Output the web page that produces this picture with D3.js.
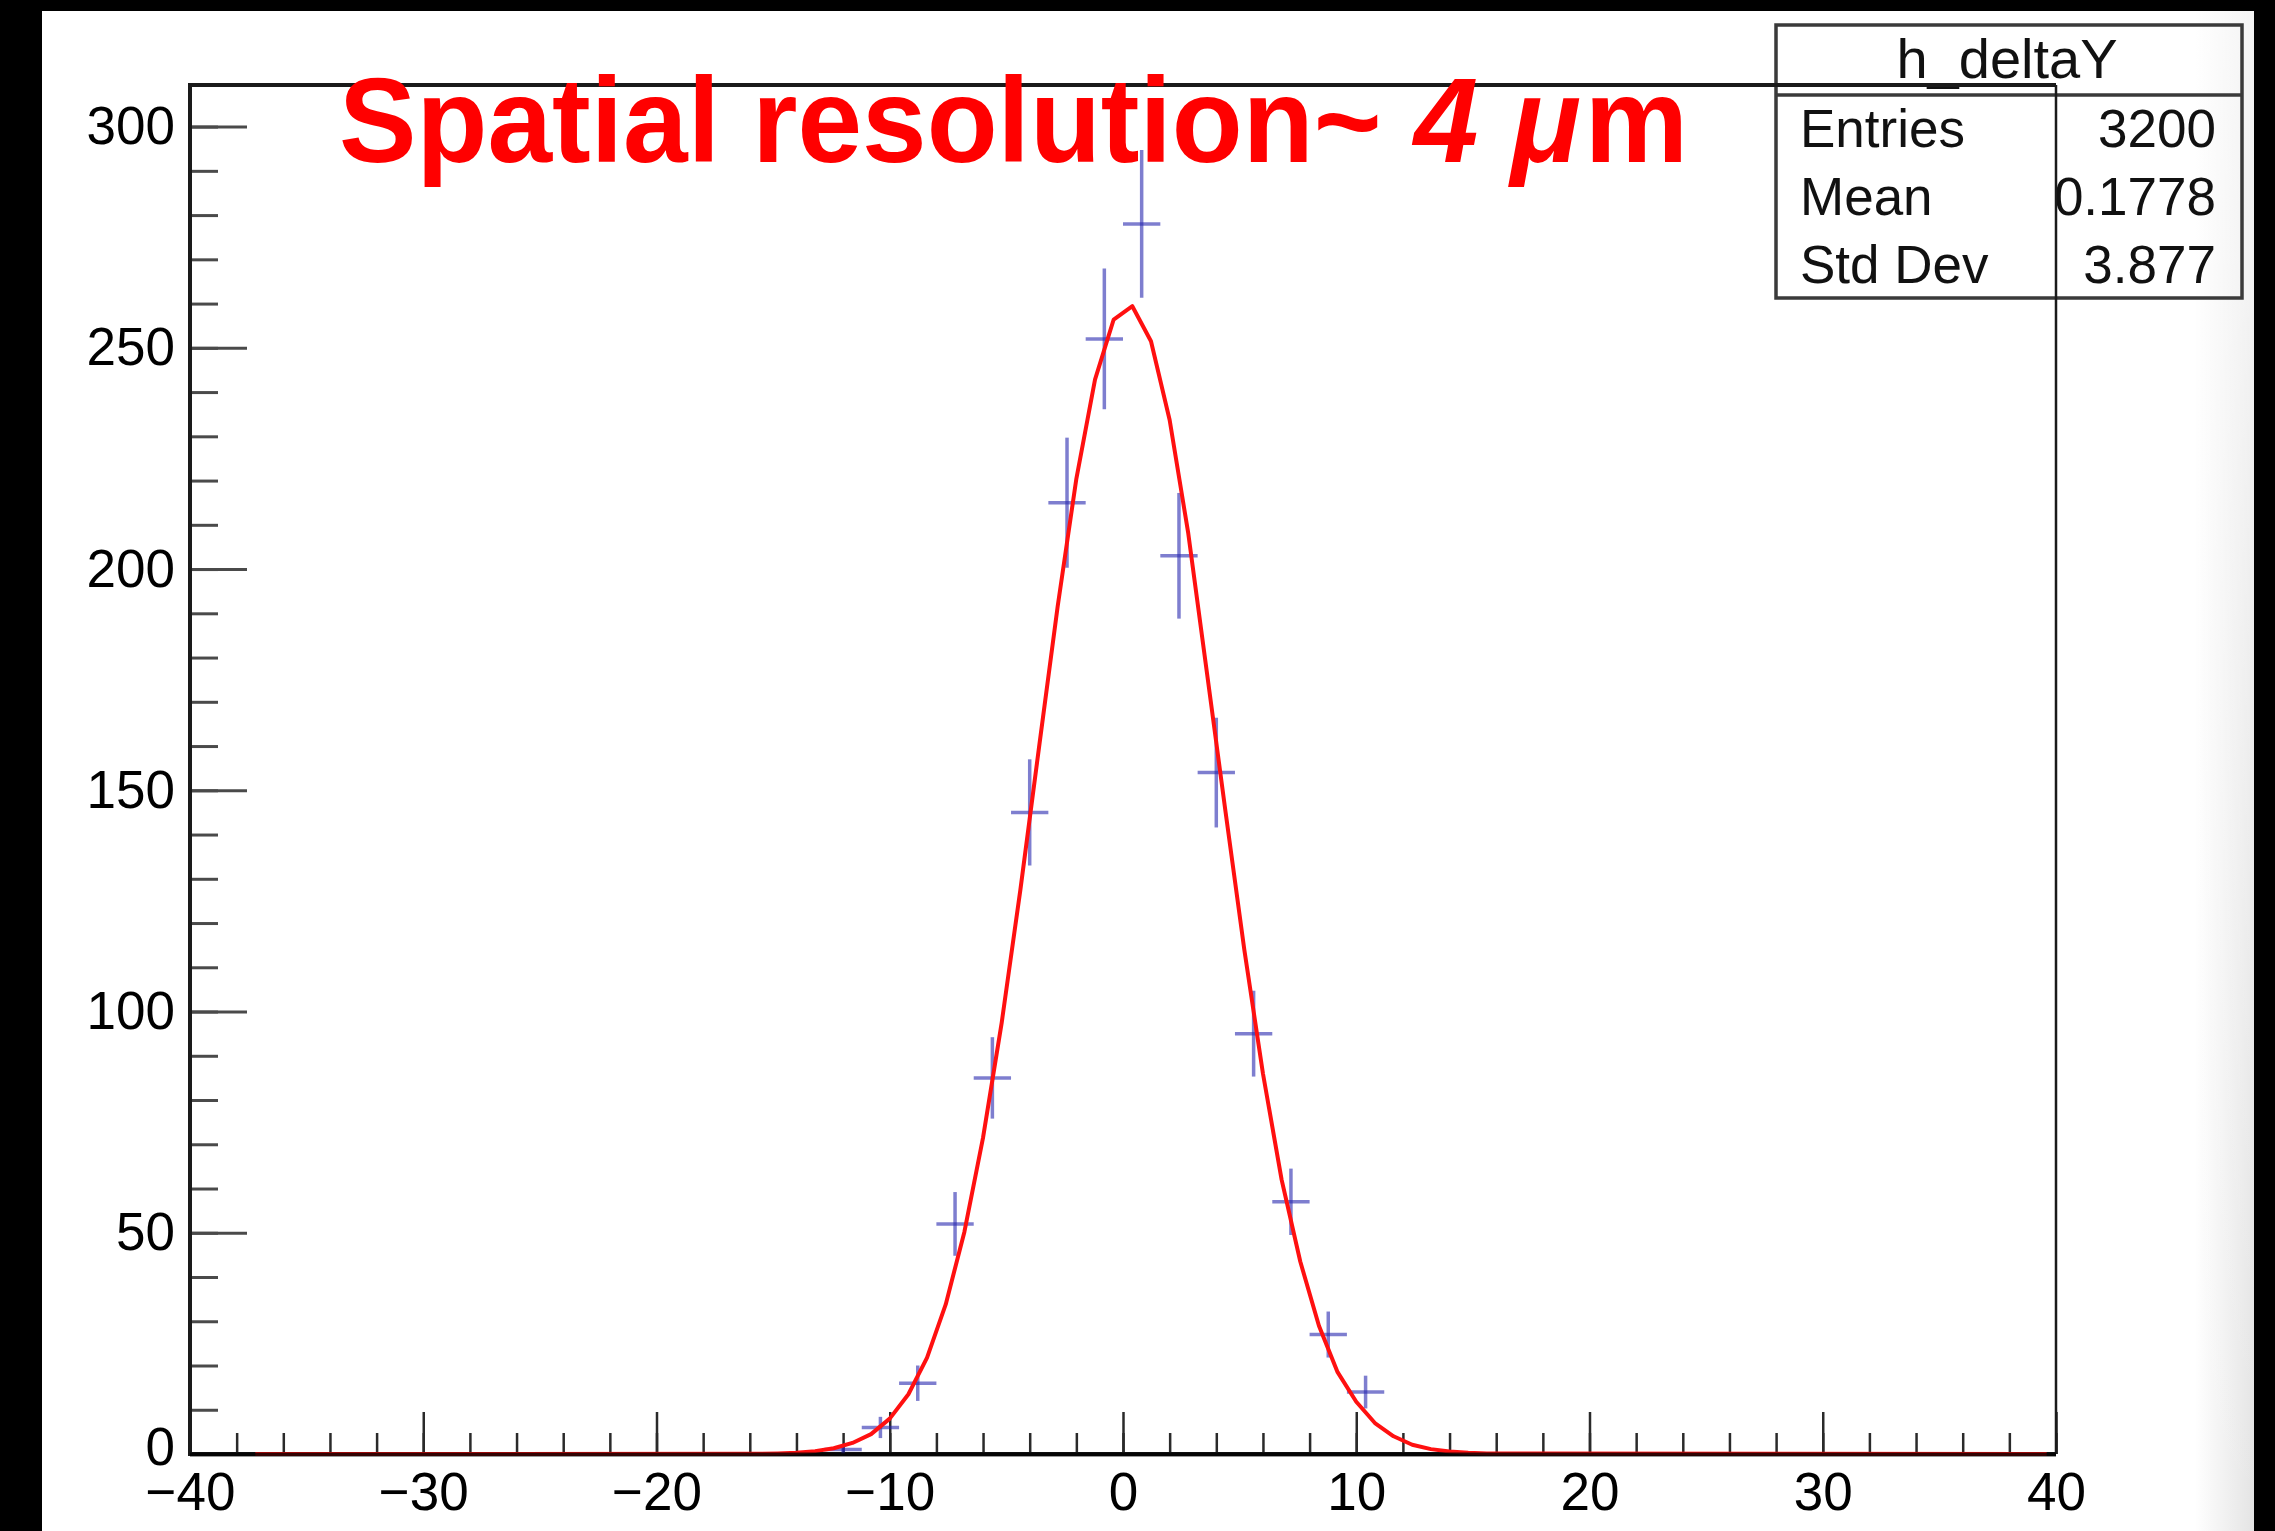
<!DOCTYPE html>
<html>
<head>
<meta charset="utf-8">
<script src="https://cdn.jsdelivr.net/npm/d3@7"></script>
<style>
  html, body { margin: 0; padding: 0; background: #000; }
  svg { display: block; }
  text { font-family: "Liberation Sans", Arial, Helvetica, sans-serif; }
</style>
</head>
<body>
<svg id="chart" width="2275" height="1531"></svg>
<script>
// ---- data ----
const binCenters = [-12.0, -10.4, -8.8, -7.2, -5.6, -4.0, -2.4, -0.8, 0.8, 2.4, 4.0, 5.6, 7.2, 8.8, 10.4];
const counts     = [1, 6, 16, 52, 85, 145, 215, 252, 278, 203, 154, 95, 57, 27, 14];
const errors     = [1.0, 2.4, 4.0, 7.2, 9.2, 12.0, 14.7, 15.9, 16.7, 14.2, 12.4, 9.7, 7.5, 5.2, 3.7];
const binHalfWidth = 0.8;

const fitX = [-37.2, -15.6, -14.8, -14.0, -13.2, -12.4, -11.6, -10.8, -10.0, -9.2, -8.4,
              -7.6, -6.8, -6.0, -5.2, -4.4, -3.6, -2.8, -2.0, -1.2, -0.4,
              0.4, 1.2, 2.0, 2.8, 3.6, 4.4, 5.2, 6.0, 6.8, 7.6,
              8.4, 9.2, 10.0, 10.8, 11.6, 12.4, 13.2, 14.0, 14.8, 15.6, 39.6];
const fitY = [0, 0.05, 0.14, 0.3, 0.65, 1.3, 2.5, 4.5, 8.0, 13.5, 21.8,
              33.8, 50.2, 71.5, 97.5, 127.5, 159.7, 191.6, 220.4, 242.8, 256.4,
              259.4, 251.5, 233.7, 208.0, 176.5, 145.0, 114.0, 86.0, 62.0, 43.5,
              29.0, 18.5, 11.8, 7.0, 4.0, 2.1, 1.1, 0.55, 0.27, 0.12, 0];

const xMajorTicks = [-40, -30, -20, -10, 0, 10, 20, 30, 40];
const xMinorTicks = d3.range(-40, 40.001, 2);
const yMajorTicks = [0, 50, 100, 150, 200, 250, 300];
const yMinorTicks = d3.range(0, 301, 10);
const xDomain = [-40, 40];
const yDomain = [0, 309.4];

const histName = "h_deltaY";
const statLabels = ["Entries", "Mean", "Std Dev"];
const statValues = ["3200", "0.1778", "3.877"];

// ---- layout ----
const W = 2275, H = 1531;
const frame = { left: 190, right: 2056, top: 85, bottom: 1454 };
const FONT = '"Liberation Sans", Arial, Helvetica, sans-serif';

const svg = d3.select("#chart");

// background
svg.append("rect").attr("x", 0).attr("y", 0).attr("width", W).attr("height", H).attr("fill", "#000");
svg.append("rect").attr("x", 42).attr("y", 11).attr("width", 2212).attr("height", H - 11).attr("fill", "#fff");
const defs = svg.append("defs");
const grad = defs.append("linearGradient").attr("id", "edge").attr("x1", 0).attr("x2", 1).attr("y1", 0).attr("y2", 0);
grad.append("stop").attr("offset", "0%").attr("stop-color", "#fff");
grad.append("stop").attr("offset", "100%").attr("stop-color", "#e4e4e4");
const gradV = defs.append("linearGradient").attr("id", "edgeMask").attr("x1", 0).attr("x2", 0).attr("y1", 0).attr("y2", 1);
gradV.append("stop").attr("offset", "0%").attr("stop-color", "#fff").attr("stop-opacity", 0.6);
gradV.append("stop").attr("offset", "100%").attr("stop-color", "#fff").attr("stop-opacity", 0);
svg.append("rect").attr("x", 2195).attr("y", 11).attr("width", 59).attr("height", H - 11).attr("fill", "url(#edge)");
svg.append("rect").attr("x", 2195).attr("y", 11).attr("width", 59).attr("height", H - 11).attr("fill", "url(#edgeMask)");

const x = d3.scaleLinear().domain(xDomain).range([frame.left, frame.right]);
const y = d3.scaleLinear().domain(yDomain).range([frame.bottom, frame.top]);

// stats box (no fill; frame lines show through)
const box = { x0: 1776, x1: 2242, y0: 25, y1: 298, div: 95 };
svg.append("rect").attr("x", box.x0).attr("y", box.y0)
  .attr("width", box.x1 - box.x0).attr("height", box.y1 - box.y0)
  .attr("fill", "none").attr("stroke", "#3a3a3a").attr("stroke-width", 3.5);
svg.append("line").attr("x1", box.x0).attr("x2", box.x1).attr("y1", box.div).attr("y2", box.div)
  .attr("stroke", "#3a3a3a").attr("stroke-width", 3.5);
svg.append("text").attr("x", 2007).attr("y", 78).attr("text-anchor", "middle")
  .attr("font-size", 56).attr("fill", "#111").text(histName);
statLabels.forEach((lab, i) => {
  const by = 147 + i * 68;
  svg.append("text").attr("x", 1800).attr("y", by).attr("font-size", 53).attr("fill", "#111").text(lab);
  svg.append("text").attr("x", 2216).attr("y", by).attr("text-anchor", "end")
    .attr("font-size", 53).attr("fill", "#111").text(statValues[i]);
});

// axes: ticks drawn inward, minor and major in separate groups
const fontSize = 53;
const gxMinor = svg.append("g").attr("transform", `translate(0,${frame.bottom})`)
  .call(d3.axisBottom(x).tickValues(xMinorTicks).tickSize(-21).tickSizeOuter(0).tickFormat(""));
const gxMajor = svg.append("g").attr("transform", `translate(0,${frame.bottom})`)
  .call(d3.axisBottom(x).tickValues(xMajorTicks).tickSize(-42).tickSizeOuter(0).tickPadding(18)
    .tickFormat(d3.format("d")));
[gxMinor, gxMajor].forEach(g => {
  g.selectAll(".domain").remove();
  g.selectAll(".tick line").attr("stroke", "#2a2a2a").attr("stroke-width", 2.5);
});
gxMajor.selectAll(".tick text").attr("font-size", fontSize).attr("fill", "#000").attr("font-family", FONT);

const gyMinor = svg.append("g").attr("transform", `translate(${frame.left},0)`)
  .call(d3.axisLeft(y).tickValues(yMinorTicks).tickSize(-28).tickSizeOuter(0).tickFormat(""));
const gyMajor = svg.append("g").attr("transform", `translate(${frame.left},0)`)
  .call(d3.axisLeft(y).tickValues(yMajorTicks).tickSize(-57).tickSizeOuter(0).tickPadding(15)
    .tickFormat(d3.format("d")));
[gyMinor, gyMajor].forEach(g => {
  g.selectAll(".domain").remove();
  g.selectAll(".tick line").attr("stroke", "#4a4a4a").attr("stroke-width", 3);
});
gyMajor.selectAll(".tick text").attr("font-size", fontSize).attr("fill", "#000").attr("font-family", FONT)
  .attr("dy", d => d === 0 ? "0.2em" : "0.32em");

// frame lines
const frameG = svg.append("g").attr("stroke", "#1a1a1a").attr("fill", "none");
frameG.append("line").attr("x1", frame.left).attr("x2", frame.right).attr("y1", frame.top).attr("y2", frame.top).attr("stroke-width", 4);
frameG.append("line").attr("x1", frame.right).attr("x2", frame.right).attr("y1", frame.top).attr("y2", frame.bottom).attr("stroke-width", 2.5);
frameG.append("line").attr("x1", frame.left).attr("x2", frame.left).attr("y1", frame.top - 2).attr("y2", frame.bottom + 2).attr("stroke-width", 4);
frameG.append("line").attr("x1", frame.left).attr("x2", frame.right).attr("y1", frame.bottom).attr("y2", frame.bottom).attr("stroke-width", 4);

// data points with error bars
const pts = binCenters.map((c, i) => ({ c, v: counts[i], e: errors[i] }));
const ptsG = svg.append("g").attr("stroke", "rgba(40,40,175,0.6)").attr("stroke-width", 3.5);
ptsG.selectAll("line.h").data(pts).enter().append("line").attr("class", "h")
  .attr("x1", d => x(d.c - binHalfWidth)).attr("x2", d => x(d.c + binHalfWidth))
  .attr("y1", d => y(d.v)).attr("y2", d => y(d.v));
ptsG.selectAll("line.v").data(pts).enter().append("line").attr("class", "v")
  .attr("x1", d => x(d.c)).attr("x2", d => x(d.c))
  .attr("y1", d => y(Math.max(0, d.v - d.e))).attr("y2", d => y(d.v + d.e));

// fit curve
const fitPts = fitX.map((fx, i) => [fx, fitY[i]]);
const line = d3.line().x(d => x(d[0])).y(d => y(d[1]));
svg.append("path").datum(fitPts).attr("d", line)
  .attr("fill", "none").attr("stroke", "#ff1010").attr("stroke-width", 4).attr("stroke-linejoin", "round");
// axis line mostly over the curve's flat part (dark red look)
svg.append("line").attr("x1", frame.left).attr("x2", frame.right).attr("y1", frame.bottom + 0.5).attr("y2", frame.bottom + 0.5)
  .attr("stroke", "#000").attr("stroke-opacity", 0.8).attr("stroke-width", 4);

// red annotation
const ann = svg.append("text").attr("x", 339).attr("y", 162).attr("font-size", 120)
  .attr("font-weight", "bold").attr("fill", "#ff0000")
  .attr("textLength", 1349).attr("lengthAdjust", "spacingAndGlyphs");
ann.append("tspan").text("Spatial resolution~ ");
ann.append("tspan").attr("font-style", "italic").text("4 \u03bc");
ann.append("tspan").attr("dx", 4).text("m");
</script>
</body>
</html>
